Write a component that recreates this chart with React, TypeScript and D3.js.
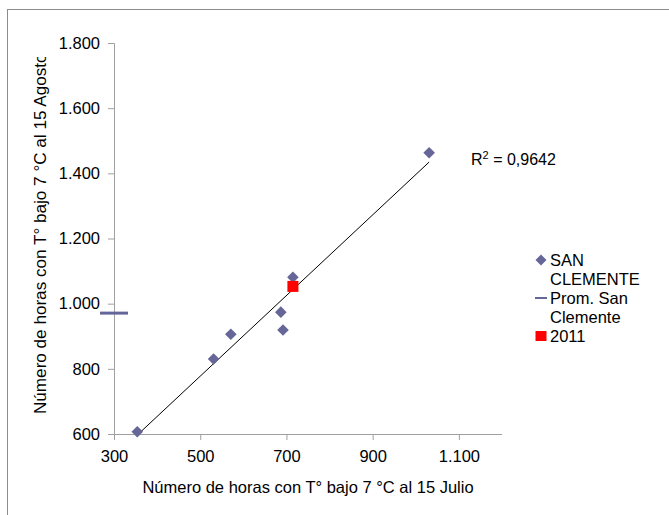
import React, { useEffect, useRef } from 'react';
import * as d3 from 'd3';

// SAN CLEMENTE: hours below 7 °C up to 15 July (x) vs up to 15 August (y)
const horasJulio = [354, 531, 571, 687, 692, 715, 1031];
const horasAgosto = [607, 830, 906, 974, 919, 1081, 1463];

// Prom. San Clemente (drawn as a dash at the left edge)
const promX = [300];
const promY = [971];

// 2011
const x2011 = [715];
const y2011 = [1053];

const xTicks = [300, 500, 700, 900, 1100];
const yTicks = [600, 800, 1000, 1200, 1400, 1600, 1800];
const r2Label = '0,9642';

const legendItems = ['SAN|CLEMENTE', 'Prom. San|Clemente', '2011'];

const FONT = 'Liberation Sans, Arial, sans-serif';
const PURPLE = '#666699';

const App = () => {
  const svgRef = useRef<SVGSVGElement>(null);

  useEffect(() => {
    const svg = d3.select(svgRef.current);
    svg.selectAll('*').remove();

    const width = 669;
    const height = 515;
    const left = 114, right = 502, top = 43, bottom = 434;

    svg.attr('width', width).attr('height', height);

    // outer chart frame
    svg.append('rect')
      .attr('x', 7.5).attr('y', 9.5)
      .attr('width', 800).attr('height', 700)
      .attr('fill', 'white')
      .attr('stroke', '#8c8c8c');

    const x = d3.scaleLinear().domain([300, 1200]).range([left, right]);
    const y = d3.scaleLinear().domain([600, 1800]).range([bottom, top]);

    const loc = d3.formatLocale({ decimal: ',', thousands: '.', grouping: [3], currency: ['', ''] });
    const fmt = loc.format(',d');

    const axisColor = '#a0a0a0';

    // y axis
    const gy = svg.append('g').attr('transform', `translate(${left},0)`)
      .call(d3.axisLeft(y).tickValues(yTicks).tickFormat(d => fmt(d as number)).tickSize(6).tickPadding(8));
    gy.select('.domain').attr('stroke', axisColor).attr('d', `M-6,${top + 0.5}H0.5V${bottom + 6}`);
    gy.selectAll('.tick line').attr('stroke', axisColor);
    gy.selectAll('.tick text').attr('font-family', FONT).attr('font-size', 16.5).attr('fill', '#000');

    // x axis
    const gx = svg.append('g').attr('transform', `translate(0,${bottom})`)
      .call(d3.axisBottom(x).tickValues(xTicks).tickFormat(d => fmt(d as number)).tickSize(6).tickPadding(10));
    gx.select('.domain').attr('stroke', axisColor).attr('d', `M${left},0.5H${right}`);
    gx.selectAll('.tick line').attr('stroke', axisColor);
    gx.selectAll('.tick text').attr('font-family', FONT).attr('font-size', 16.5).attr('fill', '#000');

    // axis titles
    svg.append('text')
      .attr('x', (left + right) / 2)
      .attr('y', 493)
      .attr('text-anchor', 'middle')
      .attr('font-family', FONT)
      .attr('font-size', 16.5)
      .text('Número de horas con T° bajo 7 °C al 15 Julio');

    svg.append('clipPath').attr('id', 'ytitle-clip')
      .append('rect').attr('x', 0).attr('y', 57).attr('width', 100).attr('height', 400);

    svg.append('g')
      .attr('clip-path', 'url(#ytitle-clip)')
      .append('text')
      .attr('transform', 'translate(46,414) rotate(-90)')
      .attr('text-anchor', 'start')
      .attr('font-family', FONT)
      .attr('font-size', 17.12)
      .text('Número de horas con T° bajo 7 °C al 15 Agosto');

    // linear trend line (least squares on SAN CLEMENTE)
    const n = horasJulio.length;
    const mx = d3.mean(horasJulio) as number;
    const my = d3.mean(horasAgosto) as number;
    let sxy = 0, sxx = 0;
    for (let i = 0; i < n; i++) {
      sxy += (horasJulio[i] - mx) * (horasAgosto[i] - my);
      sxx += (horasJulio[i] - mx) ** 2;
    }
    const slope = sxy / sxx;
    const intercept = my - slope * mx;
    const [x0, x1] = d3.extent(horasJulio) as [number, number];
    svg.append('line')
      .attr('x1', x(x0)).attr('y1', y(intercept + slope * x0))
      .attr('x2', x(x1)).attr('y2', y(intercept + slope * x1))
      .attr('stroke', '#000')
      .attr('stroke-width', 1);

    // prom dash
    svg.selectAll('.prom')
      .data(promX)
      .enter()
      .append('line')
      .attr('x1', (d) => x(d) - 14).attr('x2', (d) => x(d) + 14)
      .attr('y1', (_, i) => y(promY[i])).attr('y2', (_, i) => y(promY[i]))
      .attr('stroke', PURPLE)
      .attr('stroke-width', 3);

    // SAN CLEMENTE diamonds
    const diamond = (cx: number, cy: number, r: number) =>
      `M${cx},${cy - r}L${cx + r},${cy}L${cx},${cy + r}L${cx - r},${cy}Z`;
    svg.selectAll('.pt')
      .data(horasJulio)
      .enter()
      .append('path')
      .attr('d', (d, i) => diamond(x(d), y(horasAgosto[i]), 5.8))
      .attr('fill', PURPLE);

    // 2011 square
    svg.selectAll('.sq')
      .data(x2011)
      .enter()
      .append('rect')
      .attr('x', (d) => x(d) - 5.5)
      .attr('y', (_, i) => y(y2011[i]) - 5.5)
      .attr('width', 11).attr('height', 11)
      .attr('fill', '#ff0000');

    // R² label
    const r2 = svg.append('text')
      .attr('x', 471).attr('y', 165)
      .attr('font-family', FONT)
      .attr('font-size', 16);
    r2.append('tspan').text('R');
    r2.append('tspan').attr('font-size', 11).attr('dy', -6).text('2');
    r2.append('tspan').attr('dy', 6).text(` = ${r2Label}`);

    // legend
    const lg = svg.append('g').attr('transform', 'translate(541,0)');
    const rows = [260, 298, 336];
    legendItems.forEach((label, i) => {
      const cy = rows[i];
      if (i === 0) {
        lg.append('path').attr('d', diamond(0, cy, 5.5)).attr('fill', PURPLE);
      } else if (i === 1) {
        lg.append('line').attr('x1', -6).attr('x2', 6).attr('y1', cy).attr('y2', cy)
          .attr('stroke', PURPLE).attr('stroke-width', 2);
      } else {
        lg.append('rect').attr('x', -5.5).attr('y', cy - 5).attr('width', 11).attr('height', 10)
          .attr('fill', '#ff0000');
      }
      label.split('|').forEach((part, j) => {
        lg.append('text')
          .attr('x', 9)
          .attr('y', cy + j * 19.5)
          .attr('dy', '0.35em')
          .attr('font-family', FONT)
          .attr('font-size', 16.5)
          .text(part);
      });
    });
  }, []);

  return (
    <div style={{ position: 'absolute', left: 0, top: 0 }}>
      <svg ref={svgRef} style={{ display: 'block' }}></svg>
    </div>
  );
};

export default App;
